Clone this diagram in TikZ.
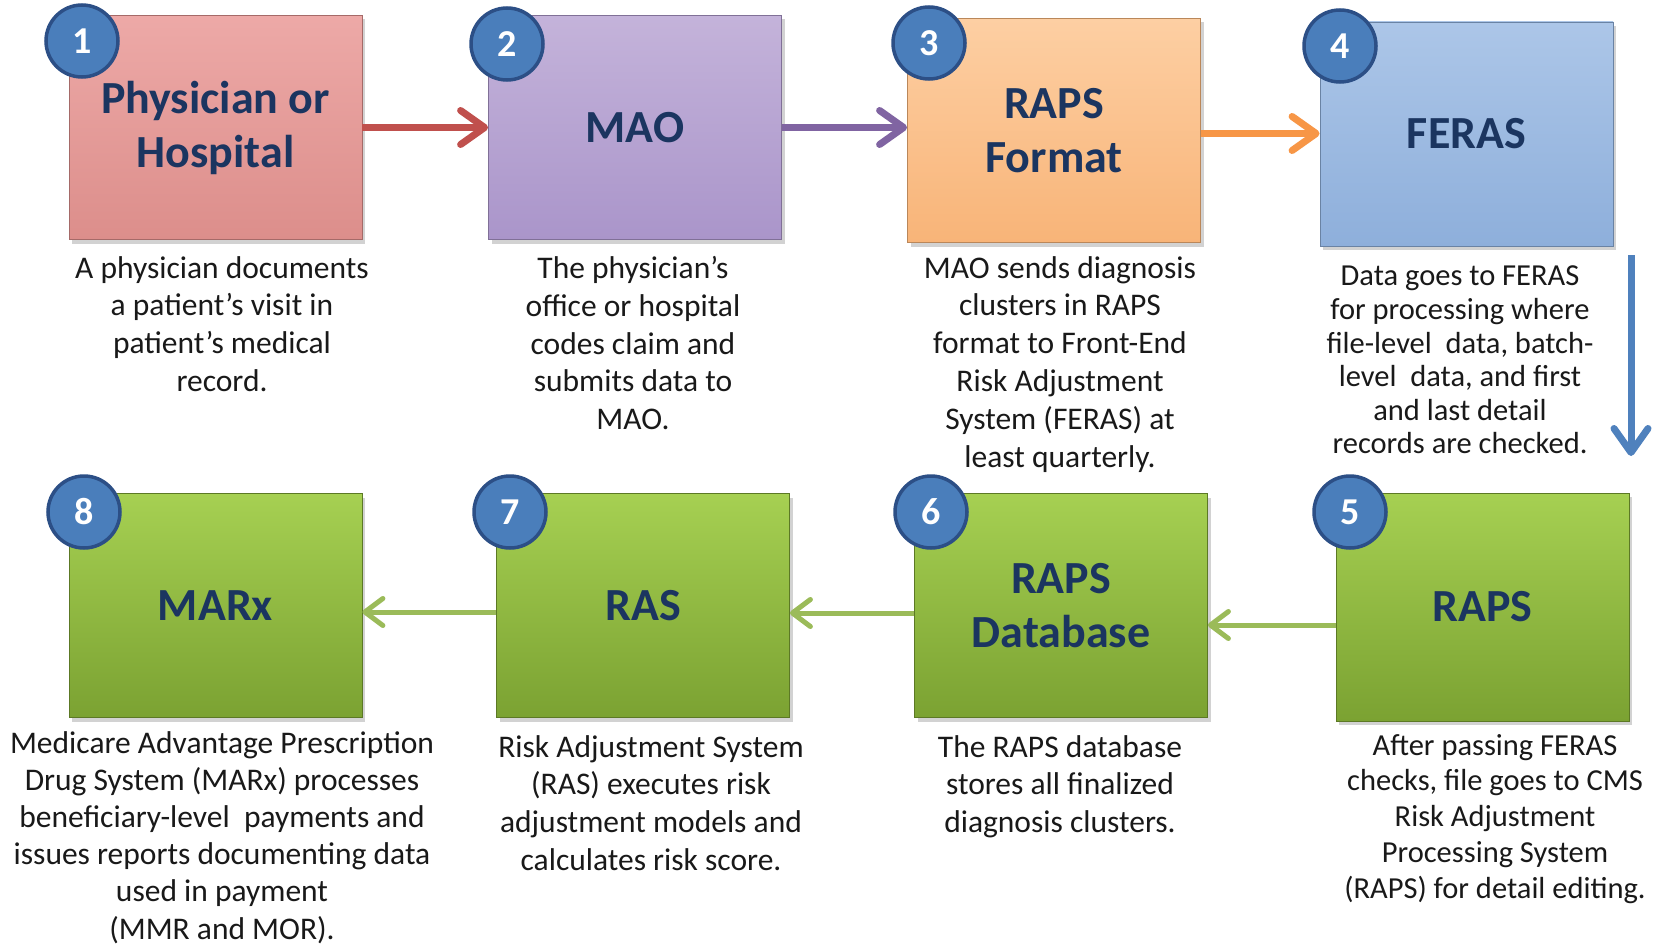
\documentclass[tikz,border=0pt]{standalone}
\usepackage{fontspec}
\setmainfont{Carlito}
\usetikzlibrary{arrows.meta,shadows,calc}
\definecolor{navy}{HTML}{1B3560}
\definecolor{numfill}{HTML}{4A7EBB}
\definecolor{numdraw}{HTML}{2C4F86}
\definecolor{redA}{HTML}{EDA9A7}\definecolor{redB}{HTML}{DC8E8B}
\definecolor{purA}{HTML}{C4B3DA}\definecolor{purB}{HTML}{AA95CA}
\definecolor{orgA}{HTML}{FDCFA3}\definecolor{orgB}{HTML}{F8B478}
\definecolor{bluA}{HTML}{ACC6E8}\definecolor{bluB}{HTML}{8EAFDB}
\definecolor{grnA}{HTML}{A6D052}\definecolor{grnB}{HTML}{7BA232}
\definecolor{arRed}{HTML}{C0504D}
\definecolor{arPur}{HTML}{8064A2}
\definecolor{arOrg}{HTML}{F79646}
\definecolor{arBlu}{HTML}{4F81BD}
\definecolor{arGrn}{HTML}{9BBB59}
\tikzset{
  box/.style 2 args={rectangle, minimum width=293pt, minimum height=224pt,
    top color=#1, bottom color=#2, draw=#2!75!black, line width=0.8pt,
    drop shadow={shadow xshift=3pt, shadow yshift=-4pt, opacity=0.35},
    font=\fontsize{46}{54}\selectfont\bfseries, text=navy, align=center, inner sep=0pt},
  num/.style={circle, fill=numfill, draw=numdraw, line width=3.5pt, minimum size=72pt,
    inner sep=0pt, text=white, font=\fontsize{38}{38}\selectfont\bfseries},
  desc/.style={align=center, anchor=north, inner sep=0pt, text=black!90,
    font=\fontsize{31.5}{37.8}\selectfont},
  flow/.style={line width=7pt, -{Straight Barb[length=24pt,width=34pt,line cap=round,line join=round]}},
  back/.style={line width=5pt, arGrn, -{Straight Barb[length=18pt,width=27pt,line cap=round,line join=round]}}
}
\begin{document}
\begin{tikzpicture}[x=1pt,y=-1pt]
\useasboundingbox[fill=white] (0,0) rectangle (1663,947);
% boxes
\node[box={redA}{redB}] (b1) at (215.5,127.5) {Physician or\\Hospital};
\node[box={purA}{purB}] (b2) at (635,127.5) {MAO};
\node[box={orgA}{orgB}] (b3) at (1054,130.5) {RAPS\\Format};
\node[box={bluA}{bluB}] (b4) at (1466.5,134) {FERAS};
\node[box={grnA}{grnB}] (b8) at (215.5,605.5) {MARx};
\node[box={grnA}{grnB}] (b7) at (643,605.5) {RAS};
\node[box={grnA}{grnB}] (b6) at (1061,605.5) {RAPS\\Database};
\node[box={grnA}{grnB}, minimum height=228pt] (b5) at (1482.5,607) {RAPS};
% number circles
\node[num] (n1) at (82,41) {1};
\node[num] (n2) at (507,44) {2};
\node[num] (n3) at (929,43) {3};
\node[num] (n4) at (1340,46) {4};
\node[num] (n5) at (1350,512) {5};
\node[num] (n6) at (931,512) {6};
\node[num] (n7) at (510,512) {7};
\node[num] (n8) at (84,512) {8};
% arrows top row
\draw[flow, arRed] (b1.east) -- (b2.west);
\draw[flow, arPur] (b2.east) -- (b2.east -| b3.west);
\draw[flow, arOrg] ([yshift=-3pt]b3.east) -- ([yshift=-3pt]b3.east -| b4.west);
% down arrow
\coordinate (dtop) at (1631,255);
\coordinate (dbot) at (1631,456);
\draw[flow, arBlu] (dtop) -- (dbot);
% bottom row arrows
\draw[back] ([yshift=-18pt]b5.west) -- ([yshift=-18pt]b5.west -| b6.east);
\draw[back] ([yshift=-7.5pt]b6.west) -- ([yshift=-7.5pt]b6.west -| b7.east);
\draw[back] ([yshift=-6.5pt]b7.west) -- ([yshift=-6.5pt]b7.west -| b8.east);
% descriptions
\node[desc] (d1) at (222,256) {A physician documents\\a patient’s visit in\\patient’s medical\\record.};
\node[desc] (d2) at (633,256) {The physician’s\\office or hospital\\codes claim and\\submits data to\\MAO.};
\node[desc] (d3) at (1060,256) {MAO sends diagnosis\\clusters in RAPS\\format to Front-End\\Risk Adjustment\\System (FERAS) at\\least quarterly.};
\node[desc, font=\fontsize{30.5}{33.6}\selectfont] (d4) at (1460,266) {Data goes to FERAS\\for processing where\\file-level\ \ data, batch-\\level\ \ data, and first\\and last detail\\records are checked.};
\node[desc, font=\fontsize{30.5}{35.8}\selectfont] (d5) at (1495,734) {After passing FERAS\\checks, file goes to CMS\\Risk Adjustment\\Processing System\\(RAPS) for detail editing.};
\node[desc] (d6) at (1060,735) {The RAPS database\\stores all finalized\\diagnosis clusters.};
\node[desc] (d7) at (651,735) {Risk Adjustment System\\(RAS) executes risk\\adjustment models and\\calculates risk score.};
\node[desc, font=\fontsize{31.5}{37.2}\selectfont] (d8) at (222,731) {Medicare Advantage Prescription\\Drug System (MARx) processes\\beneficiary-level\ \ payments and\\issues reports documenting data\\used in payment\\(MMR and MOR).};
\end{tikzpicture}
\end{document}
